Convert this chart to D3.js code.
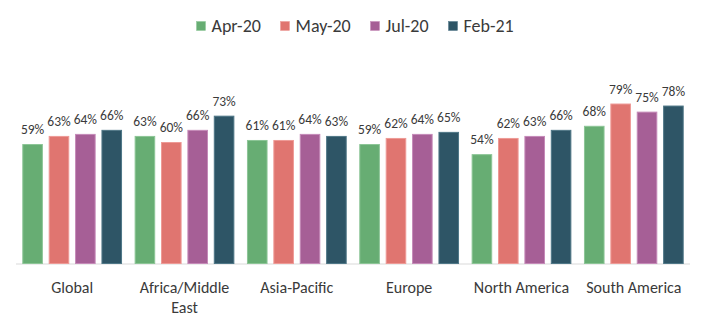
<!DOCTYPE html>
<html><head><meta charset="utf-8">
<script src="https://cdn.jsdelivr.net/npm/d3@7"></script>
<style>
body{margin:0;background:#fff;}
svg{display:block;font-family:Carlito,Calibri,Lato,"Open Sans",sans-serif;}
</style></head><body>
<svg id="c" width="704" height="327"></svg>
<script>
const categories = ["Global", "Africa/Middle East", "Asia-Pacific", "Europe", "North America", "South America"];
const seriesNames = ["Apr-20", "May-20", "Jul-20", "Feb-21"];
const apr20 = [59, 63, 61, 59, 54, 68];
const may20 = [63, 60, 61, 62, 62, 79];
const jul20 = [64, 66, 64, 64, 63, 75];
const feb21 = [66, 73, 63, 65, 66, 78];
const colors = ["#67ad73", "#e07570", "#a65f96", "#2e5566"];
const strokes = ["#8cc596", "#ee9a96", "#c58ab8", "#4f7787"];

const series = [apr20, may20, jul20, feb21];
const svg = d3.select("#c");
const left = 16, right = 690, baseY = 263.5, topY = 61;

const x0 = d3.scaleBand().domain(categories).range([left, right]).paddingInner(0).paddingOuter(0);
const x1 = d3.scaleBand().domain(seriesNames).range([6.3, x0.bandwidth() - 6.3]).paddingInner(0.22).paddingOuter(0);
const y = d3.scaleLinear().domain([0, 100]).range([baseY, topY]);

// axis baseline
svg.append("line").attr("x1", left).attr("x2", right).attr("y1", baseY + 0.5).attr("y2", baseY + 0.5)
  .attr("stroke", "#d9d9d9").attr("stroke-width", 1);

const groups = svg.selectAll("g.grp").data(categories).enter().append("g")
  .attr("transform", d => `translate(${x0(d)},0)`);

groups.each(function(cat, ci) {
  const g = d3.select(this);
  seriesNames.forEach((s, si) => {
    const v = series[si][ci];
    g.append("rect")
      .attr("x", x1(s) + 0.5).attr("width", x1.bandwidth() - 1)
      .attr("y", y(v) + 0.5).attr("height", baseY - y(v) - 0.5)
      .attr("fill", colors[si]).attr("stroke", strokes[si]).attr("stroke-width", 1);
    g.append("text")
      .attr("x", x1(s) + x1.bandwidth() / 2).attr("y", y(v) - 10)
      .attr("text-anchor", "middle").attr("font-size", 13.5).attr("fill", "#3a3a3a")
      .text(v + "%");
  });
});

// category labels
const labelLines = {"Africa/Middle East": ["Africa/Middle", "East"]};
categories.forEach(c => {
  const lines = labelLines[c] || [c];
  const t = svg.append("text").attr("text-anchor", "middle").attr("font-size", 16).attr("fill", "#3a3a3a");
  lines.forEach((ln, i) => {
    t.append("tspan").attr("x", x0(c) + x0.bandwidth() / 2).attr("y", 292.5 + i * 20.5).text(ln);
  });
});

// legend
const legendX = [196.5, 280.5, 370.5, 448.5];
seriesNames.forEach((s, i) => {
  svg.append("rect").attr("x", legendX[i]).attr("y", 21.5).attr("width", 9).attr("height", 9)
    .attr("fill", colors[i]).attr("stroke", strokes[i]).attr("stroke-width", 0.5);
  svg.append("text").attr("x", legendX[i] + 15).attr("y", 32).attr("font-size", 18).attr("fill", "#3a3a3a").text(s);
});
</script>
</body></html>
